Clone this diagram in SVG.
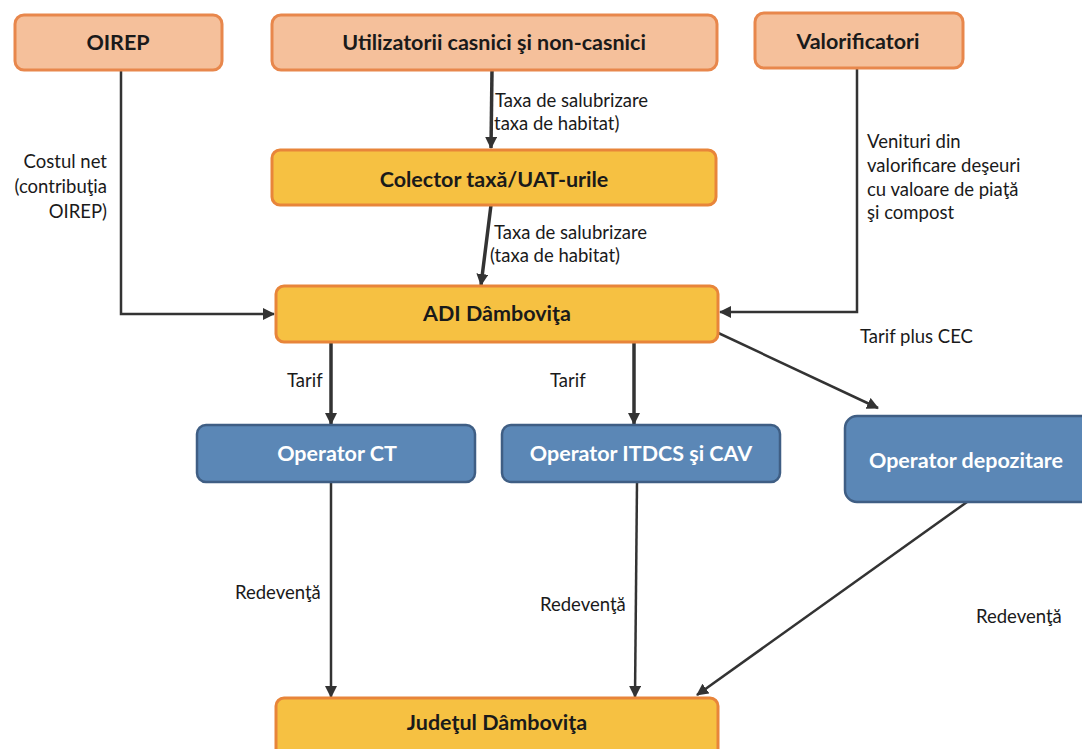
<svg xmlns="http://www.w3.org/2000/svg" width="1082" height="749" viewBox="0 0 1082 749">
<defs>
<marker id="ah" viewBox="0 0 12 12" refX="11" refY="6" markerWidth="12" markerHeight="12" markerUnits="userSpaceOnUse" orient="auto">
<path d="M0,0 L12,6 L0,12 Z" fill="#333"/>
</marker>
<style>
.peach{fill:#F5C09B;stroke:#E8874C;stroke-width:3}
.yellow{fill:#F6C142;stroke:#E8853A;stroke-width:3}
.blue{fill:#5B87B6;stroke:#3F5E84;stroke-width:2.5}
.nt{font-family:Lato,"Open Sans",sans-serif;font-weight:bold;font-size:21.5px;text-anchor:middle;fill:#1a1a1a}
.wt{fill:#ffffff}
.lb{font-family:Lato,"Open Sans",sans-serif;font-size:18.5px;fill:#1a1a1a}
.ln{fill:none;stroke:#333;stroke-width:2.5}
.thick{stroke-width:3.5}
</style>
</defs>
<rect width="1082" height="749" fill="#ffffff"/>

<g id="connectors">
<path class="ln" d="M121,70 V314 H274" marker-end="url(#ah)"/>
<path class="ln" d="M857,68 V312 H720" marker-end="url(#ah)"/>
<path class="ln thick" d="M492,70 L491,148" marker-end="url(#ah)"/>
<path class="ln thick" d="M491,205 L481,285" marker-end="url(#ah)"/>
<path class="ln thick" d="M331,342 V424" marker-end="url(#ah)"/>
<path class="ln thick" d="M634,342 V424" marker-end="url(#ah)"/>
<path class="ln" d="M697,323 L878,408" marker-end="url(#ah)"/>
<path class="ln" d="M331,482 V697" marker-end="url(#ah)"/>
<path class="ln" d="M637,482 L635,697" marker-end="url(#ah)"/>
<path class="ln" d="M967,502 L697,695" marker-end="url(#ah)"/>
</g>

<g id="labels">
<text class="lb" x="495" y="107">Taxa de salubrizare</text>
<text class="lb" x="494" y="130">taxa de habitat)</text>
<text class="lb" x="494" y="239">Taxa de salubrizare</text>
<text class="lb" x="490" y="262">(taxa de habitat)</text>
<text class="lb" x="107" y="168" text-anchor="end">Costul net</text>
<text class="lb" x="107" y="193" text-anchor="end">(contribuţia</text>
<text class="lb" x="107" y="218" text-anchor="end">OIREP)</text>
<text class="lb" x="867" y="148">Venituri din</text>
<text class="lb" x="867" y="172">valorificare deşeuri</text>
<text class="lb" x="867" y="196">cu valoare de piaţă</text>
<text class="lb" x="867" y="219">şi compost</text>
<text class="lb" x="860" y="343">Tarif plus CEC</text>
<text class="lb" x="287" y="387">Tarif</text>
<text class="lb" x="550" y="387">Tarif</text>
<text class="lb" x="235" y="599">Redevenţă</text>
<text class="lb" x="540" y="611">Redevenţă</text>
<text class="lb" x="976" y="623">Redevenţă</text>
</g>

<g id="n-oirep">
<rect class="peach" x="15" y="15" width="207" height="55" rx="9"/>
<text class="nt" x="118" y="50">OIREP</text>
</g>
<g id="n-utilizatorii">
<rect class="peach" x="272" y="15" width="445" height="55" rx="9"/>
<text class="nt" x="494" y="50">Utilizatorii casnici şi non-casnici</text>
</g>
<g id="n-valorificatori">
<rect class="peach" x="755" y="13" width="208" height="55" rx="9"/>
<text class="nt" x="858" y="49">Valorificatori</text>
</g>
<g id="n-colector">
<rect class="yellow" x="272" y="150" width="444" height="55" rx="8"/>
<text class="nt" x="494" y="187">Colector taxă/UAT-urile</text>
</g>
<g id="n-adi">
<rect class="yellow" x="276" y="286" width="442" height="56" rx="8"/>
<text class="nt" x="497" y="321">ADI Dâmboviţa</text>
</g>
<g id="n-opct">
<rect class="blue" x="197" y="425" width="278" height="57" rx="9"/>
<text class="nt wt" x="337" y="461">Operator CT</text>
</g>
<g id="n-opitdcs">
<rect class="blue" x="502" y="425" width="278" height="57" rx="9"/>
<text class="nt wt" x="641" y="461">Operator ITDCS şi CAV</text>
</g>
<g id="n-opdep">
<rect class="blue" x="845" y="416" width="250" height="86" rx="12"/>
<text class="nt wt" x="966" y="468">Operator depozitare</text>
</g>
<g id="n-judetul">
<rect class="yellow" x="276" y="698" width="442" height="62" rx="8"/>
<text class="nt" x="497" y="730">Judeţul Dâmboviţa</text>
</g>
</svg>
